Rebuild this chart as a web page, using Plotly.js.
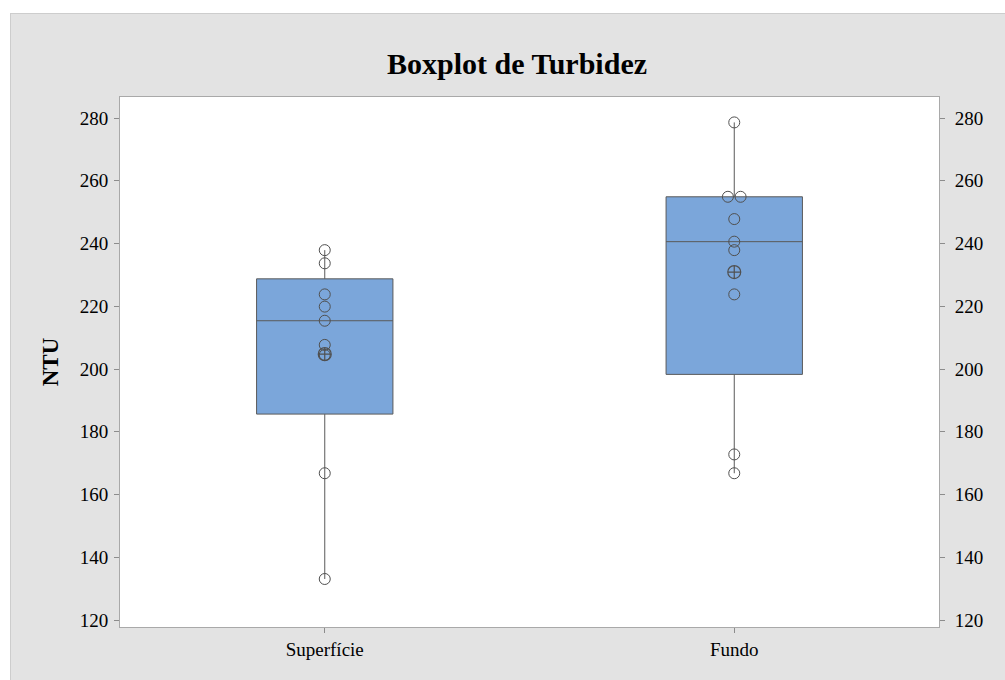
<!DOCTYPE html>
<html>
<head>
<meta charset="utf-8">
<script src="https://cdn.plot.ly/plotly-3.0.1.min.js"></script>
<style>
  html, body { margin: 0; padding: 0; background: #ffffff; }
  #wrap { position: relative; width: 1005px; height: 680px; overflow: hidden; }
  #frame { position: absolute; left: 10px; top: 13px; width: 1000px; height: 680px;
           background: #e3e3e3; border: 1px solid #cdcdcd; box-sizing: border-box; }
  #chart { position: absolute; left: 0; top: 0; width: 1005px; height: 680px; }
</style>
</head>
<body>
<div id="wrap">
  <div id="frame"></div>
  <div id="chart"></div>
</div>
<script>
// ---- data ----
const categories = ["Superfície", "Fundo"];
const superficie = [133.1, 166.8, 204.5, 207.7, 215.4, 219.9, 223.8, 233.7, 237.9];
const fundo = [166.8, 172.8, 223.8, 237.9, 240.6, 247.8, 254.9, 254.9, 278.6];
const yTicks = [120, 140, 160, 180, 200, 220, 240, 260, 280];
const chartTitle = "Boxplot de Turbidez";
const yTitle = "NTU";

const groups = [superficie, fundo];
const boxFill = "#7BA6DA";
const lineCol = "#5a5a5a";

// box traces (quartiles computed by Plotly, exclusive method ~ Minitab for n=9)
const boxX = [], boxY = [];
groups.forEach((g, i) => g.forEach(v => { boxX.push(i); boxY.push(v); }));

// individual points; duplicates spread side by side
const ptX = [], ptY = [];
groups.forEach((g, i) => {
  const counts = {};
  g.forEach(v => { counts[v] = (counts[v] || 0) + 1; });
  const seen = {};
  g.forEach(v => {
    const n = counts[v];
    const k = (seen[v] = (seen[v] || 0) + 1) - 1;
    const off = n > 1 ? (k - (n - 1) / 2) * 0.031 : 0;
    ptX.push(i + off); ptY.push(v);
  });
});

const means = groups.map(g => g.reduce((a, b) => a + b, 0) / g.length);

const traces = [
  {
    type: "box", x: boxX, y: boxY, width: 0.333, whiskerwidth: 0,
    boxpoints: false, quartilemethod: "exclusive",
    fillcolor: boxFill, line: { color: lineCol, width: 1 },
    hoverinfo: "skip", showlegend: false
  },
  {
    type: "scatter", mode: "markers", x: ptX, y: ptY,
    marker: { symbol: "circle-open", size: 11, color: "#505050", line: { width: 1, color: "#505050" } },
    hoverinfo: "skip", showlegend: false
  },
  {
    type: "scatter", mode: "markers", x: [0, 1], y: means,
    marker: { symbol: "circle-cross-open", size: 13, color: "#505050", line: { width: 1.2, color: "#505050" } },
    hoverinfo: "skip", showlegend: false
  },
  {
    type: "scatter", mode: "markers", x: [0, 1], y: means, yaxis: "y2",
    marker: { opacity: 0 }, hoverinfo: "skip", showlegend: false
  }
];

const serif = "Liberation Serif, Times New Roman, serif";
const tickFont = { family: serif, size: 19, color: "#000" };
const yRange = [117.8, 286.7];

const layout = {
  width: 1005, height: 680,
  paper_bgcolor: "rgba(0,0,0,0)", plot_bgcolor: "#ffffff",
  margin: { l: 120, r: 66, t: 97, b: 53 },
  title: {
    text: "<b>" + chartTitle + "</b>",
    font: { family: serif, size: 30, color: "#000" },
    x: 517 / 1005, xanchor: "center", y: 1 - 63 / 680, yanchor: "middle", yref: "container"
  },
  xaxis: {
    range: [-0.5, 1.5], tickvals: [0, 1], ticktext: categories,
    showgrid: false, zeroline: false, showline: true, mirror: true,
    linecolor: "#a9a9a9", linewidth: 1,
    ticks: "outside", ticklen: 5, tickcolor: "#8c8c8c",
    tickfont: tickFont, fixedrange: true
  },
  yaxis: {
    range: yRange, tickvals: yTicks, ticktext: yTicks.map(String),
    showgrid: false, zeroline: false, showline: true, mirror: true,
    linecolor: "#a9a9a9", linewidth: 1,
    ticks: "outside", ticklen: 5, tickcolor: "#8c8c8c",
    tickfont: tickFont, ticklabelstandoff: 2,
    title: { text: "<b>" + yTitle + "</b>", font: { family: serif, size: 23, color: "#000" }, standoff: 14 }
  },
  yaxis2: {
    range: yRange, tickvals: yTicks, ticktext: yTicks.map(String),
    overlaying: "y", side: "right", showgrid: false, zeroline: false,
    showline: false, ticks: "outside", ticklen: 5, tickcolor: "#8c8c8c",
    tickfont: tickFont, ticklabelstandoff: 6
  }
};

Plotly.newPlot("chart", traces, layout, { displayModeBar: false, staticPlot: true });
</script>
</body>
</html>
